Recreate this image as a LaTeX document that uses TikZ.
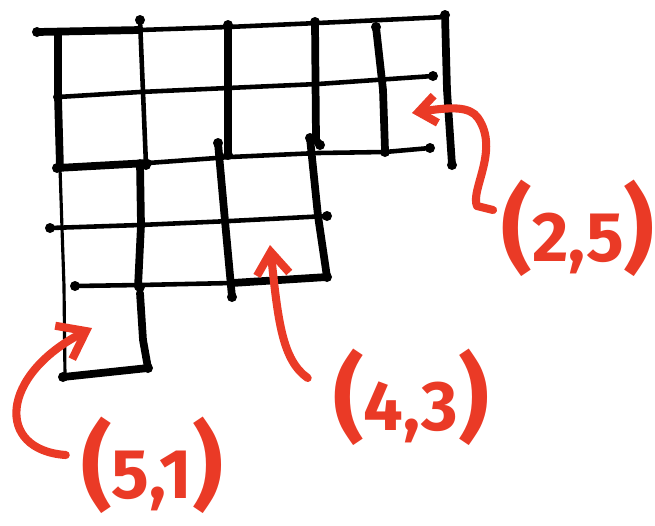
\documentclass[tikz,border=0pt]{standalone}
\usepackage{fontspec}
\setsansfont{Fira Sans}
\usetikzlibrary{arrows.meta,calc}
\definecolor{marker}{RGB}{234,58,38}
% hand-written cell label: big brackets, smaller digits
\newcommand{\cellpair}[2]{{\fontsize{54}{54}\selectfont(}{\fontsize{40}{40}\selectfont#1,#2}{\fontsize{54}{54}\selectfont)}}

\begin{document}
\begin{tikzpicture}[x=0.02cm,y=-0.02cm,line cap=round,line join=round,
  ink/.style={line width=2.6pt},
  heavy/.style={line width=4.4pt},
  fine/.style={line width=1.8pt},
  pen/.style={marker,line width=4.6pt},
  tag/.style={text=marker,font=\sffamily\bfseries,inner sep=0pt}]
\useasboundingbox (0,0) rectangle (655,525);

% horizontal strokes
\draw[heavy] (37,32) -- (140,30);
\draw[ink] (140,30) -- (228,27) -- (318,23) -- (445,17);
\draw[ink] (58,97) -- (140,92) -- (228,88) -- (318,84) -- (433,76);
\draw[heavy] (57,168) -- (148,163);
\draw[ink] (148,163) -- (230,157) -- (318,153) -- (385,152) -- (430,148);
\draw[ink] (50,228) -- (140,225) -- (230,221) -- (327,216);
\draw[ink] (75,286) -- (140,285) -- (232,283);
\draw[heavy] (232,283) -- (327,277);
\draw[heavy] (63,377) -- (148,368);

% vertical strokes
\draw[heavy] (58,32) -- (58,97) -- (60,168);
\draw[fine] (60,168) -- (62,228) -- (64,286) -- (65,377);
\draw[ink] (140,20) -- (143,92) -- (146,165);
\draw[heavy] (140,163) -- (141,225) -- (138,287);
\draw[heavy] (140,293) -- (143,340) -- (148,368);
\draw[heavy] (228,25) -- (228,155);
\draw[heavy] (218,143) -- (225,221) -- (232,297);
\draw[heavy] (315,22) -- (316,140) -- (320,145);
\draw[heavy] (310,138) -- (318,216) -- (327,277);
\draw[heavy] (376,27) -- (383,90) -- (385,150);
\draw[heavy] (445,15) -- (447,90) -- (452,165);

% pen blobs at the stroke ends
\foreach \p in {(37,32),(140,20),(228,25),(315,22),(376,27),(445,15),
  (433,76),(58,97),(430,148),(385,152),(320,145),(310,138),(218,143),
  (228,155),(452,165),(57,168),(146,165),(50,228),(327,216),(75,286),
  (140,287),(232,297),(327,277),(63,377),(148,368)}
  \fill \p circle[radius=5];

% cells that are pointed at
\coordinate (c25) at (412,113);
\coordinate (c43) at (270,245);
\coordinate (c51) at (92,328);

% labels
\node[tag] (l25) at (578,228) {\cellpair{2}{5}};
\node[tag] (l43) at (411,397) {\cellpair{4}{3}};
\node[tag] (l51) at (152,465) {\cellpair{5}{1}};

% arrows
\draw[pen,-{Straight Barb[length=3.5mm,width=5.5mm]}]
  ($(l25.west)+(-8,-18)$) -- (477,206)
  .. controls (470,190) and (500,150) .. (478,118)
  .. controls (470,106) and (450,107) .. (c25);
\draw[pen,-{Straight Barb[length=4.5mm,width=6.5mm]}]
  ($(l43.west)+(-25,-19)$) .. controls (282,360) and (278,320) .. (c43);
\draw[pen,-{Straight Barb[length=5mm,width=7.5mm]}]
  ($(l51.west)+(-15,-10)$) .. controls (-5,450) and (0,375) .. (c51);
\end{tikzpicture}
\end{document}
